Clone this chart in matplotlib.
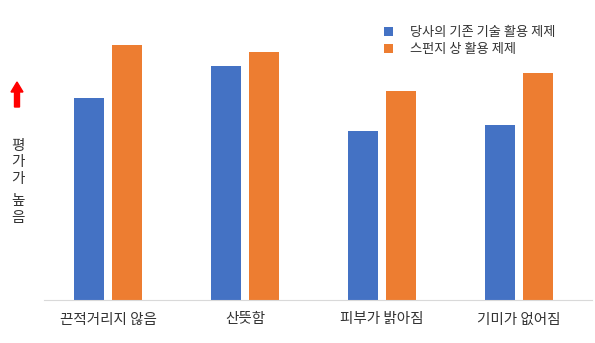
import matplotlib.pyplot as plt
import numpy as np
from matplotlib.patches import FancyArrow

plt.rcParams['font.family'] = ['Noto Sans CJK KR', 'DejaVu Sans']

# 항목 및 평가 점수
categories = ["끈적거리지 않음", "산뜻함", "피부가 밝아짐", "기미가 없어짐"]
series_names = ["당사의 기존 기술 활용 제제", "스펀지 상 활용 제제"]
old_scores = [3.37, 3.90, 2.82, 2.92]
sponge_scores = [4.25, 4.13, 3.48, 3.78]
colors = ["#4472C4", "#ED7D31"]

W, H = 595, 343
fig = plt.figure(figsize=(W / 100, H / 100), dpi=100)
ax = fig.add_axes([44 / W, (H - 300) / H, 548 / W, 300 / H])

x = np.arange(len(categories))
width = 0.22
off = 0.139
ax.bar(x - off, old_scores, width, color=colors[0], label=series_names[0])
ax.bar(x + off, sponge_scores, width, color=colors[1], label=series_names[1])

ax.set_xlim(-0.467, 3.533)
ax.set_ylim(0, 5)
for s in ["top", "right", "left"]:
    ax.spines[s].set_visible(False)
ax.spines["bottom"].set_color("#d9d9d9")
ax.set_yticks([])
ax.set_xticks(x)
ax.set_xticklabels(categories, fontsize=10.5, color="#333333")
ax.tick_params(axis="x", length=0, pad=9)

# 범례
leg = ax.legend(loc="upper left", bbox_to_anchor=(372 / W, 1 - 14 / H), bbox_transform=fig.transFigure,
                frameon=False, fontsize=9.5, handlelength=0.7, handleheight=0.7,
                handletextpad=1.3, labelspacing=0.3)
for t in leg.get_texts():
    t.set_color("#333333")

# 왼쪽 화살표와 설명
fig.patches.append(FancyArrow(17 / W, 1 - 107 / H, 0, 25 / H, width=5 / W, head_width=12 / W,
                              head_length=10 / H, length_includes_head=True,
                              color="#FF0000", transform=fig.transFigure))
label_chars = ["평", "가", "가", "높", "음"]
label_y = [146, 162, 179, 201, 218]
for ch, yy in zip(label_chars, label_y):
    fig.text(18 / W, 1 - yy / H, ch, ha="center", va="center", fontsize=10.5, color="#333333")

fig.savefig("out.png", dpi=100)
